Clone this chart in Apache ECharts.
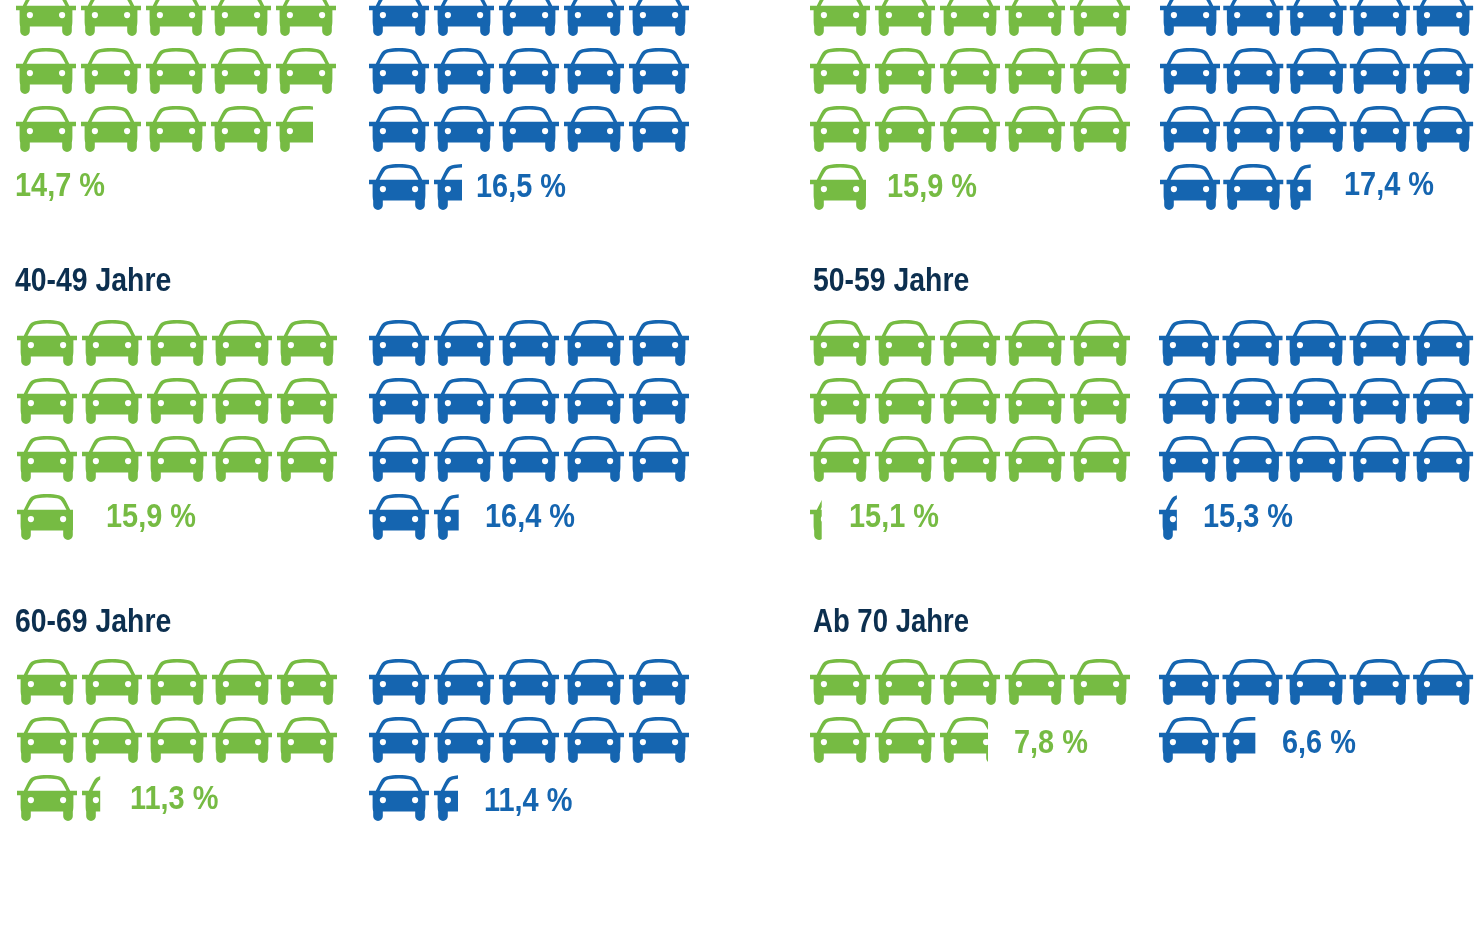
<!DOCTYPE html>
<html><head><meta charset="utf-8">
<style>html,body{margin:0;padding:0;background:#fff;overflow:hidden}#c{width:1478px;height:940px}</style>
<script src="https://cdn.jsdelivr.net/npm/echarts@6/dist/echarts.min.js"></script>
</head><body><div id="c"></div>
<script>
// Data
const ageGroups = ['', '', '40-49 Jahre', '50-59 Jahre', '60-69 Jahre', 'Ab 70 Jahre'];
const greenLabels = ['14,7 %', '15,9 %', '15,9 %', '15,1 %', '11,3 %', '7,8 %'];
const blueLabels = ['16,5 %', '17,4 %', '16,4 %', '15,3 %', '11,4 %', '6,6 %'];
// cars shown, as far as each last car is cut off in the picture
const greenCars = [14.57, 15.86, 15.86, 15.18, 11.28, 7.74];
const blueCars = [16.43, 17.37, 16.38, 15.28, 11.37, 6.51];
const rowNames = ['1', '2', '3', '4'];

// Layout
const GREEN = '#76bb43', BLUE = '#1565b0', NAVY = '#0c2f4f';
const FONT = '"Liberation Sans",sans-serif';
const carsPerRow = 5;
const groupLefts = [[16, 369], [810, 1160], [17, 369], [810, 1159], [17, 369], [810, 1159]];
const groupTops = [-10, -10, 320, 320, 659, 659];
const titlePos = [null, null, [15, 280], [813, 280], [15, 621], [813, 621]];
const titleScale = [1, 1, 0.835, 0.835, 0.835, 0.81];
const greenLabelPos = [[15, 185], [887, 186], [106, 516], [849, 516], [130, 798], [1014, 742]];
const blueLabelPos = [[476, 186], [1344, 184], [485, 516], [1203, 516], [484, 800], [1282, 742]];
const carSymbol = 'path://M0,16 L6.8,16 C8.8,12 10.8,8 12.5,5.2 C13.5,3.5 15,2.4 18,1.6 C25,0 35,0 42,1.6 C45,2.4 46.5,3.5 47.5,5.2 C49.2,8 51.2,12 53.2,16 L60,16 L60,20.5 L56.4,20.5 L56.4,31 C56.4,33.5 56.2,35.5 55.8,36.7 L55.8,41.2 A4.8,4.8 0 0 1 46.2,41.2 L46.2,36.7 L13.8,36.7 L13.8,41.2 A4.8,4.8 0 0 1 4.2,41.2 L4.2,36.7 C3.8,35.5 3.6,33.5 3.6,31 L3.6,20.5 L0,20.5 Z ' +
  'M10.6,16 L49.4,16 C47.4,12 45.2,8.4 43.6,6.4 C42.8,5.4 41.5,5 39.5,4.6 C33,3.5 27,3.5 20.5,4.6 C18.5,5 17.2,5.4 16.4,6.4 C14.8,8.4 12.6,12 10.6,16 Z ' +
  'M10.8,25.2 a3.1,3.1 0 1 0 6.2,0 a3.1,3.1 0 1 0 -6.2,0 Z M43,25.2 a3.1,3.1 0 1 0 6.2,0 a3.1,3.1 0 1 0 -6.2,0 Z';

const rowsOf = total => rowNames.map((_, i) => {
  const v = Math.min(carsPerRow, total - i * carsPerRow);
  return v > 0 ? v : null;
});

const grid = [], xAxis = [], yAxis = [], series = [], graphic = [];
function addBlock(left, top, cars, color) {
  const idx = grid.length;
  const gridTop = Math.max(0, top - 6);
  grid.push({ left, top: gridTop, width: 325, height: 58 * rowNames.length, containLabel: false });
  xAxis.push({ gridIndex: idx, type: 'value', min: 0, max: carsPerRow, show: false });
  yAxis.push({ gridIndex: idx, type: 'category', inverse: true, data: rowNames, show: false });
  series.push({
    type: 'pictorialBar', xAxisIndex: idx, yAxisIndex: idx, data: rowsOf(cars),
    symbol: carSymbol, symbolSize: [60, 46], symbolRepeat: 'fixed', symbolMargin: 2.5,
    symbolClip: true, symbolBoundingData: 320 / 65, symbolPosition: 'start',
    symbolOffset: [0, top - 6 - gridTop],
    itemStyle: { color }, silent: true, animation: false
  });
}
function addText(text, pos, color, size, scale) {
  graphic.push({ type: 'text', x: pos[0], y: pos[1] + 2, scaleX: scale, silent: true,
    style: { text, font: 'bold ' + size + 'px ' + FONT, fill: color, verticalAlign: 'middle', align: 'left' } });
}
ageGroups.forEach((name, i) => {
  addBlock(groupLefts[i][0], groupTops[i], greenCars[i], GREEN);
  addBlock(groupLefts[i][1], groupTops[i], blueCars[i], BLUE);
  addText(greenLabels[i], greenLabelPos[i], GREEN, 34, 0.85);
  addText(blueLabels[i], blueLabelPos[i], BLUE, 34, 0.85);
  if (name) addText(name, titlePos[i], NAVY, 34, titleScale[i]);
});

const chart = echarts.init(document.getElementById('c'), null, { renderer: 'canvas' });
chart.setOption({ animation: false, backgroundColor: '#fff', grid, xAxis, yAxis, series, graphic });
</script></body></html>
